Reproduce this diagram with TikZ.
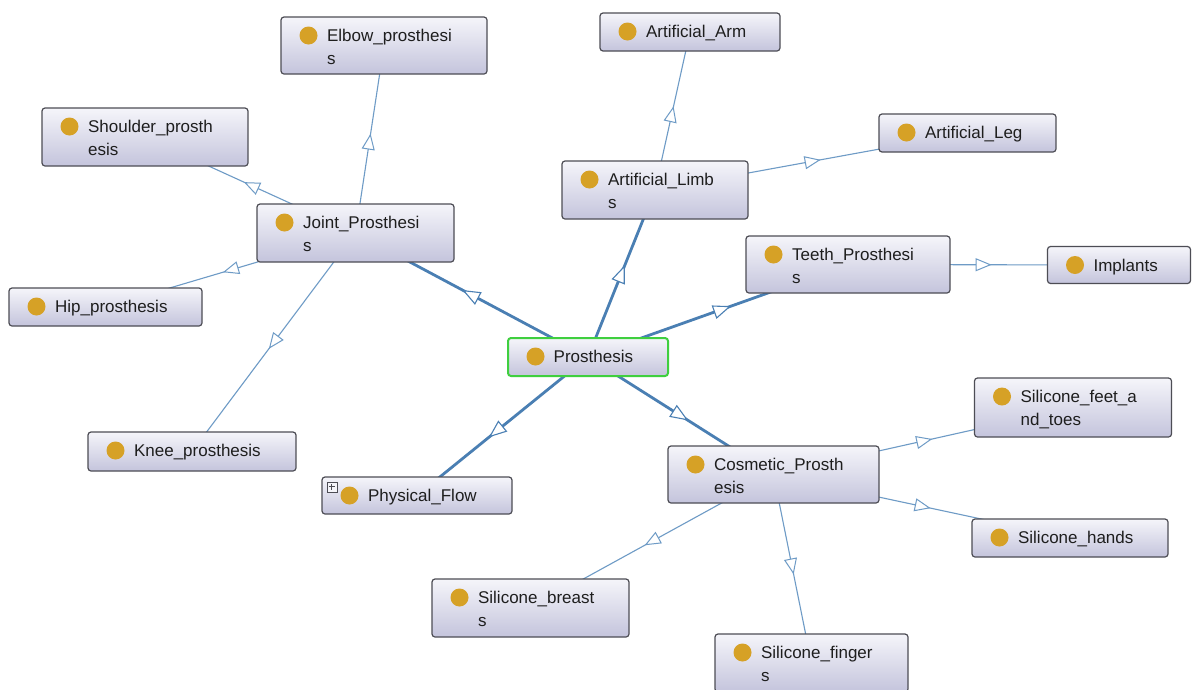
\documentclass[tikz,border=0pt]{standalone}
\usepackage{fontspec}
\setmainfont{Liberation Sans}
\usetikzlibrary{arrows.meta,decorations.markings,backgrounds}
\definecolor{boxtop}{HTML}{F5F5FA}
\definecolor{boxbot}{HTML}{C4C4DC}
\definecolor{boxline}{HTML}{4D4D55}
\definecolor{dotgold}{HTML}{D6A126}
\definecolor{textgray}{HTML}{1E1E1E}
\definecolor{trunkblue}{HTML}{4A7FB3}
\definecolor{linkblue}{HTML}{6E9BC6}
\definecolor{rootgreen}{HTML}{3FCF3F}

\begin{document}
\begin{tikzpicture}[x=1pt,y=-1pt,
      lbl/.style={anchor=north west,xshift=46.5pt,yshift=-12.9pt,inner sep=0pt,
                  align=left,text=textgray,font=\fontsize{17}{23}\selectfont},
      cls/.style={rectangle,draw=boxline,line width=1.2pt,rounded corners=3pt,
                  top color=boxtop,bottom color=boxbot,inner sep=0pt,
                  path picture={\fill[dotgold] ([xshift=27.5pt,yshift=-18.5pt]
                    path picture bounding box.north west) circle (9pt);},
                  label={[lbl]north west:#1}},
      root/.style={cls=#1,draw=rootgreen,line width=2pt},
      plusbox/.style={rectangle,draw=boxline,fill=boxtop,line width=.6pt,
                  minimum size=10pt,inner sep=0pt,
                  path picture={\draw[line width=.9pt]
                    ([xshift=-3pt]path picture bounding box.center) -- ([xshift=3pt]path picture bounding box.center)
                    ([yshift=-3pt]path picture bounding box.center) -- ([yshift=3pt]path picture bounding box.center);}},
      link/.style={color=linkblue,line width=1.1pt,postaction={decorate},
                  decoration={markings,mark=at position #1 with
                    {\arrow{Triangle[length=16pt,width=13pt,fill=white,line width=1pt]}}}},
      link/.default=.53,
      trunk/.style={color=trunkblue,line width=2.8pt,postaction={decorate},
                  decoration={markings,mark=at position #1 with
                    {\arrow{Triangle[length=18pt,width=14pt,fill=white,line width=1.1pt]}}}},
      trunk/.default=.54]
    \useasboundingbox (0,0) rectangle (1192,689);
    %% -- centre ---------------------------------------------------
    \node[root={Prosthesis},minimum width=160,minimum height=38] (prosthesis) at (588,357) {};
    %% -- left branch ----------------------------------------------
    \node[cls={Joint\_Prosthesi\\s},minimum width=197,minimum height=58]      (joint)    at (355.5,233) {};
    \node[cls={Elbow\_prosthesi\\s},minimum width=206,minimum height=57]      (elbow)    at (384,45.5)  {};
    \node[cls={Shoulder\_prosth\\esis},minimum width=206,minimum height=58]   (shoulder) at (145,137)   {};
    \node[cls={Hip\_prosthesis},minimum width=193,minimum height=38]          (hip)      at (105.5,307) {};
    \node[cls={Knee\_prosthesis},minimum width=208,minimum height=39]         (knee)     at (192,451.5) {};
    \node[cls={Physical\_Flow},minimum width=190,minimum height=37]           (flow)     at (417,495.5) {};
    \node[plusbox] (flowplus) at ([shift={(10.5,10.5)}]flow.north west) {};
    %% -- top right branch -----------------------------------------
    \node[cls={Artificial\_Limb\\s},minimum width=186,minimum height=58]      (limbs)    at (655,190)   {};
    \node[cls={Artificial\_Arm},minimum width=180,minimum height=38]          (arm)      at (690,32)    {};
    \node[cls={Artificial\_Leg},minimum width=177,minimum height=38]          (leg)      at (967.5,133) {};
    \node[cls={Teeth\_Prosthesi\\s},minimum width=204,minimum height=57]      (teeth)    at (848,264.5) {};
    \node[cls={Implants},minimum width=143,minimum height=37]                 (implants) at (1119,265)  {};
    %% -- bottom right branch --------------------------------------
    \node[cls={Cosmetic\_Prosth\\esis},minimum width=211,minimum height=57]   (cosmetic) at (773.5,474.5) {};
    \node[cls={Silicone\_feet\_a\\nd\_toes},minimum width=197,minimum height=59] (feet)  at (1073,407.5) {};
    \node[cls={Silicone\_hands},minimum width=196,minimum height=38]          (hands)    at (1070,538)  {};
    \node[cls={Silicone\_breast\\s},minimum width=197,minimum height=58]      (breasts)  at (530.5,608) {};
    \node[cls={Silicone\_finger\\s},minimum width=193,minimum height=58]      (fingers)  at (811.5,663) {};
    %% -- subclass links, behind the boxes -------------------------
    \begin{scope}[on background layer]
      \fill[white] (0,0) rectangle (1192,689);
      \draw[trunk] (prosthesis.center) -- (joint.center);
      \draw[trunk=.55] (prosthesis.center) -- (limbs.center);
      \draw[trunk=.55] (prosthesis.center) -- (teeth.center);
      \draw[trunk] (prosthesis.center) -- (cosmetic.center);
      \draw[trunk=.58] (prosthesis.center) -- (flow.center);
      \draw[link] (joint.center) -- (elbow.center);
      \draw[link] (joint.center) -- (shoulder.center);
      \draw[link] (joint.center) -- (hip.center);
      \draw[link] (joint.center) -- (knee.center);
      \draw[link] (limbs.center) -- (arm.center);
      \draw[link] (limbs.center) -- (leg.center);
      \draw[link] (teeth.center) -- (implants.center);
      \draw[link] (cosmetic.center) -- (feet.center);
      \draw[link] (cosmetic.center) -- (hands.center);
      \draw[link] (cosmetic.center) -- (breasts.center);
      \draw[link] (cosmetic.center) -- (fingers.center);
    \end{scope}
\end{tikzpicture}
\end{document}
